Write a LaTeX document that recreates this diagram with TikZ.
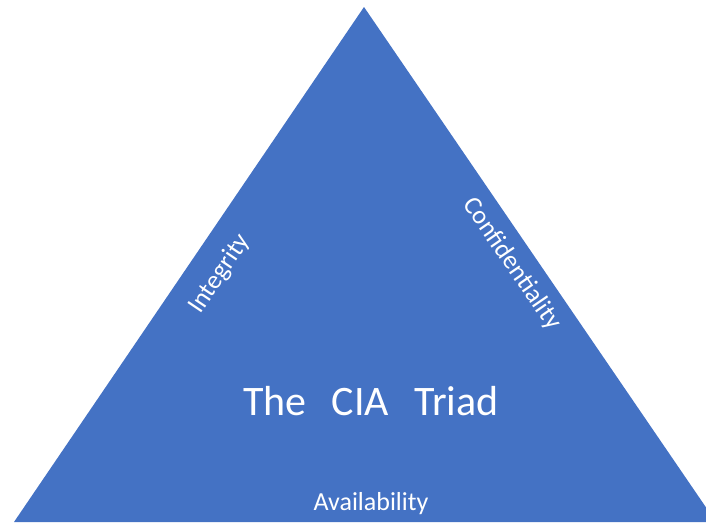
\documentclass[tikz,border=0pt]{standalone}
\usepackage{fontspec}
\setmainfont{Carlito}
\definecolor{triblue}{HTML}{4472C4}
\tikzset{
  sidelabel/.style={text=white, font=\fontsize{26}{30}\selectfont, inner sep=0pt},
  titlelabel/.style={text=white, font=\fontsize{42}{50}\selectfont, inner sep=0pt, anchor=base}
}
\begin{document}
\begin{tikzpicture}[x=1pt, y=-1pt]
                \useasboundingbox (0,0) rectangle (706,522);
                \clip (0,0) rectangle (706,522);
                \fill[triblue] (364,7) -- (14,522) -- (716,522) -- cycle;
                \node[sidelabel, rotate=56] (integ) at (220,274) {Integrity};
                \node[sidelabel, rotate=-55.5] (conf) at (512,264) {Confidentiality};
                \node[titlelabel] (title) at (371,415) {The\hspace{0.6em}CIA\hspace{0.6em}Triad};
                \node[sidelabel, anchor=base] (avail) at (371,510) {Availability};
\end{tikzpicture}
\end{document}
